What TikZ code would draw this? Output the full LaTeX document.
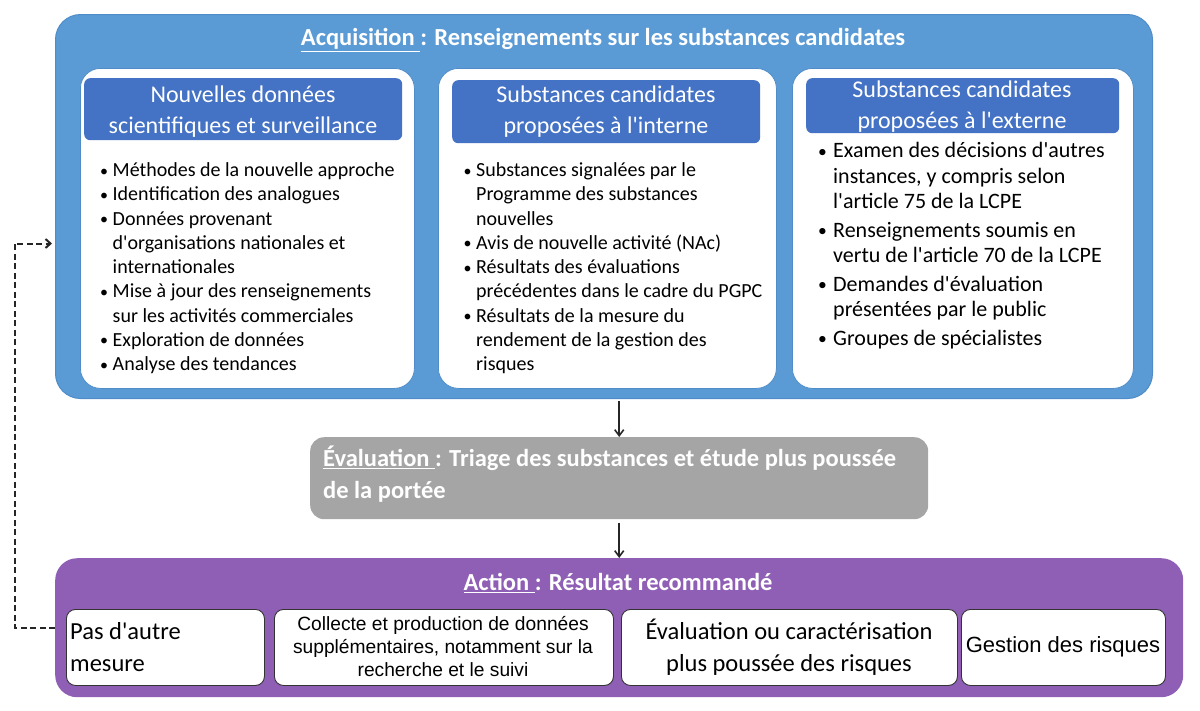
\documentclass[tikz,border=0pt]{standalone}
\usepackage{fontspec}
\setmainfont{Carlito}[Ligatures=TeXOff]
\newfontfamily\arial{Liberation Sans}[Ligatures=TeXOff]
\usetikzlibrary{arrows.meta,calc}
\definecolor{acqblue}{HTML}{5B9BD5}
\definecolor{acqedge}{HTML}{4F8CC8}
\definecolor{hdrblue}{HTML}{4472C4}
\definecolor{evalgray}{HTML}{A5A5A5}
\definecolor{actpurple}{HTML}{8F5FB5}
\newcommand\bul{\makebox[12.5pt][l]{\raisebox{0.5pt}{\scalebox{0.8}{•}}}}
\newcommand\ind{\hspace*{12.5pt}}
\newcommand\bulb{\makebox[15pt][l]{\raisebox{0.5pt}{\scalebox{0.8}{•}}}}
\newcommand\indb{\hspace*{15pt}}
\begin{document}
\begin{tikzpicture}[x=1pt,y=-1pt,
  outerbox/.style={rounded corners=25pt, anchor=north west, inner sep=0pt},
  innerbox/.style={fill=white, draw=acqedge, line width=0.8pt, rounded corners=20pt, anchor=north west, inner sep=0pt},
  hdrbox/.style={fill=hdrblue, rounded corners=6pt, anchor=north west, inner sep=0pt},
  hdrtxt/.style={text=white, align=center, font=\fontsize{24}{31}\selectfont, inner sep=0pt},
  titletxt/.style={text=white, font=\bfseries\fontsize{24.5}{32}\selectfont, inner sep=0pt},
  listtxt/.style={anchor=base west, inner sep=0pt},
  actbox/.style={fill=white, draw=black!80, line width=0.9pt, rounded corners=9pt, anchor=north west, inner sep=0pt},
  arr/.style={-{Straight Barb[length=6pt,width=9pt]}, line width=1.6pt, black!85},
  dasharr/.style={dash pattern=on 6pt off 3.5pt, -{Straight Barb[length=5pt,width=9pt]}, line width=2pt, black!85}
]
\useasboundingbox (0,0) rectangle (1200,710);

% Acquisition
\node[outerbox, fill=acqblue, draw=acqedge, line width=1pt, minimum width=1097pt, minimum height=384pt] (acq) at (55,14) {};
\node[titletxt] (acqt) at (603,40) {\underline{Acquisition\ }: Renseignements sur les substances candidates};

\node[innerbox, minimum width=334pt, minimum height=320pt] (b1) at (80,68) {};
\node[innerbox, minimum width=338pt, minimum height=320pt] (b2) at (438,68) {};
\node[innerbox, minimum width=341pt, minimum height=320pt] (b3) at (792,68) {};

\node[hdrbox, minimum width=318pt, minimum height=62pt] (h1) at (84,78) {};
\node[hdrbox, minimum width=308pt, minimum height=63pt] (h2) at (452,80) {};
\node[hdrbox, minimum width=313pt, minimum height=55pt] (h3) at (806,78) {};

\node[hdrtxt] (h1t) at (243,112) {Nouvelles données\\scientifiques et surveillance};
\node[hdrtxt] (h2t) at (606,112) {Substances candidates\\proposées à l'interne};
\node[hdrtxt] (h3t) at (962,107) {Substances candidates\\proposées à l'externe};

\node[listtxt] (l1) at (100,176.5) {\fontsize{20}{24.25}\selectfont
\begin{tabular}[t]{@{}l@{}}
\bul Méthodes de la nouvelle approche\\
\bul Identification des analogues\\
\bul Données provenant\\
\ind d'organisations nationales et\\
\ind internationales\\
\bul Mise à jour des renseignements\\
\ind sur les activités commerciales\\
\bul Exploration de données\\
\bul Analyse des tendances
\end{tabular}};

\node[listtxt] (l2) at (463.5,176.5) {\fontsize{20}{24.25}\selectfont
\begin{tabular}[t]{@{}l@{}}
\bul Substances signalées par le\\
\ind Programme des substances\\
\ind nouvelles\\
\bul Avis de nouvelle activité (NAc)\\
\bul Résultats des évaluations\\
\ind précédentes dans le cadre du PGPC\\
\bul Résultats de la mesure du\\
\ind rendement de la gestion des\\
\ind risques
\end{tabular}};

\node[listtxt] (l3) at (818,157.5) {\fontsize{22}{25.5}\selectfont
\begin{tabular}[t]{@{}l@{}}
\bulb Examen des décisions d'autres\\
\indb instances, y compris selon\\
\indb l'article 75 de la LCPE\\[3pt]
\bulb Renseignements soumis en\\
\indb vertu de l'article 70 de la LCPE\\[3pt]
\bulb Demandes d'évaluation\\
\indb présentées par le public\\[3pt]
\bulb Groupes de spécialistes
\end{tabular}};

% Evaluation
\node[outerbox, rounded corners=14pt, fill=evalgray, minimum width=618pt, minimum height=82pt] (eval) at (310,437) {};
\node[anchor=north west, inner sep=0pt, text=white, align=left, font=\bfseries\fontsize{24.5}{32}\selectfont] (evalt) at (323,446)
  {\underline{Évaluation\ }: Triage des substances et étude plus poussée\\de la portée};

% Action
\node[outerbox, rounded corners=22pt, fill=actpurple, minimum width=1128pt, minimum height=139pt] (act) at (55,558) {};
\node[titletxt] (actt) at (618,583) {\underline{Action\ }: Résultat recommandé};

\node[actbox, minimum width=198pt, minimum height=76pt] (a1) at (66,609) {};
\node[actbox, minimum width=339pt, minimum height=76pt] (a2) at (274,609) {};
\node[actbox, minimum width=336pt, minimum height=76pt] (a3) at (621,609) {};
\node[actbox, minimum width=204pt, minimum height=76pt] (a4) at (961,609) {};

\node[anchor=west, inner sep=0pt, align=left, font=\fontsize{24.5}{32}\selectfont] (a1t) at (70,647) {Pas d'autre\\mesure};
\node[inner sep=0pt, align=center, font=\arial\fontsize{19.2}{23}\selectfont] (a2t) at (443,646.5) {Collecte et production de données\\supplémentaires, notamment sur la\\recherche et le suivi};
\node[inner sep=0pt, align=center, font=\fontsize{24.5}{32}\selectfont] (a3t) at (789,647) {Évaluation ou caractérisation\\plus poussée des risques};
\node[inner sep=0pt, font=\arial\fontsize{22}{26}\selectfont] (a4t) at (1063,647) {Gestion des risques};

% Connectors
\draw[arr] (eval.north |- acq.south) ++(0,2) -- (eval.north);
\draw[arr] (eval.south) ++(0,4) -- (eval.south |- act.north);
\coordinate (back) at ($(acq.west)+(0,37)$);
\draw[dasharr] (act.west) -- ++(-40.5,0) |- ([xshift=-3pt]back);
\end{tikzpicture}
\end{document}
